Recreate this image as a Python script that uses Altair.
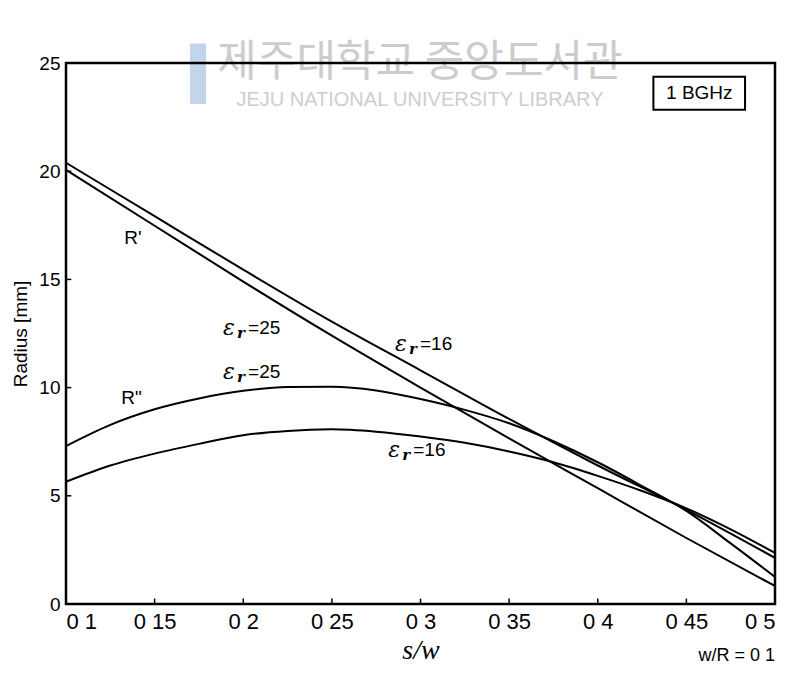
import altair as alt
import pandas as pd

# ---- data ----
x_rp = [0.10, 0.15, 0.20, 0.25, 0.30, 0.35, 0.40, 0.45, 0.50]
r1_er16 = [20.39, 17.92, 15.45, 13.05, 10.80, 8.55, 6.40, 4.35, 2.13]
r1_er25 = [20.06, 17.48, 14.90, 12.40, 10.00, 7.65, 5.35, 3.05, 0.83]

x_rpp = [0.100, 0.125, 0.150, 0.175, 0.200, 0.225, 0.250, 0.275, 0.300,
         0.325, 0.350, 0.375, 0.400, 0.425, 0.450, 0.475, 0.500]
r2_er25 = [7.30, 8.28, 9.00, 9.50, 9.85, 10.03, 10.04, 9.87, 9.47,
           8.97, 8.35, 7.52, 6.55, 5.45, 4.30, 2.80, 1.25]
r2_er16 = [5.65, 6.40, 6.95, 7.40, 7.80, 8.00, 8.07, 7.96, 7.74,
           7.45, 7.05, 6.55, 5.92, 5.22, 4.42, 3.45, 2.36]

x_ticks = [0.10, 0.15, 0.20, 0.25, 0.30, 0.35, 0.40, 0.45, 0.50]
y_ticks = [0, 5, 10, 15, 20, 25]

# annotation texts
eps_labels = ["=25", "=25", "=16", "=16"]
eps_x = [0.1886, 0.1886, 0.2856, 0.2818]
eps_y = [12.75, 10.72, 12.01, 7.12]
r_labels = ["R'", 'R"']
r_x = [0.1378, 0.1370]
r_y = [16.91, 9.52]

rows = []
for xv, yv in zip(x_rp, r1_er16):
    rows.append({"x": xv, "y": yv, "s": "R1_16"})
for xv, yv in zip(x_rp, r1_er25):
    rows.append({"x": xv, "y": yv, "s": "R1_25"})
for xv, yv in zip(x_rpp, r2_er25):
    rows.append({"x": xv, "y": yv, "s": "R2_25"})
for xv, yv in zip(x_rpp, r2_er16):
    rows.append({"x": xv, "y": yv, "s": "R2_16"})
df = pd.DataFrame(rows)

xs = alt.Scale(domain=[0.1, 0.5], nice=False, zero=False)
ys = alt.Scale(domain=[0, 25], nice=False, zero=False)
FONT = "Liberation Sans"

lines = alt.Chart(df).mark_line(color="black", strokeWidth=2, interpolate="monotone").encode(
    x=alt.X("x:Q", scale=xs, axis=alt.Axis(
        values=x_ticks, ticks=False, grid=False, domain=False,
        labelExpr="replace(format(datum.value, '~g'), '.', ' ')",
        labelFont=FONT, labelFontSize=22, labelColor="black", labelPadding=7,
        title="s/w", titleFont="Liberation Serif", titleFontStyle="italic",
        titleFontWeight="normal", titleFontSize=28, titleColor="black", titlePadding=4)),
    y=alt.Y("y:Q", scale=ys, axis=alt.Axis(
        values=y_ticks, ticks=False, grid=False, domain=False,
        labelFont=FONT, labelFontSize=19, labelColor="black", labelPadding=6,
        title="Radius [mm]", titleFont=FONT, titleFontWeight="normal",
        titleFontSize=19, titleColor="black", titlePadding=8)),
    detail="s:N",
)

# inward ticks
xt_df = pd.DataFrame({"x": x_ticks[1:-1], "y": [0] * 7, "y2": [0.25] * 7})
xtick = alt.Chart(xt_df).mark_rule(color="black", strokeWidth=1.5).encode(
    x=alt.X("x:Q", scale=xs), y=alt.Y("y:Q", scale=ys), y2="y2:Q")
yt_df = pd.DataFrame({"y": y_ticks[1:-1], "x": [0.1] * 4, "x2": [0.103] * 4})
ytick = alt.Chart(yt_df).mark_rule(color="black", strokeWidth=1.5).encode(
    y=alt.Y("y:Q", scale=ys), x=alt.X("x:Q", scale=xs), x2="x2:Q")

# frame
frame_df = pd.DataFrame({"x": [0.1], "x2": [0.5], "y": [0], "y2": [25]})
frame = alt.Chart(frame_df).mark_rect(fill=None, stroke="black", strokeWidth=2.5).encode(
    x=alt.X("x:Q", scale=xs), x2="x2:Q", y=alt.Y("y:Q", scale=ys), y2="y2:Q")

# epsilon labels
eps_df = pd.DataFrame({"x": eps_x, "y": eps_y, "t": eps_labels})
eps = alt.Chart(eps_df).mark_text(text="ε", font="DejaVu Serif", fontStyle="italic",
                                   fontSize=22, align="left", baseline="middle", color="black").encode(
    x=alt.X("x:Q", scale=xs), y=alt.Y("y:Q", scale=ys))
sub = alt.Chart(eps_df).mark_text(text="r", font="DejaVu Serif", fontStyle="italic", fontWeight="bold",
                                   fontSize=15, align="left", baseline="middle", dx=14, dy=5,
                                   color="black").encode(
    x=alt.X("x:Q", scale=xs), y=alt.Y("y:Q", scale=ys))
val = alt.Chart(eps_df).mark_text(font=FONT, fontSize=19, align="left", baseline="middle",
                                   dx=25, color="black").encode(
    x=alt.X("x:Q", scale=xs), y=alt.Y("y:Q", scale=ys), text="t:N")

r_df = pd.DataFrame({"x": r_x, "y": r_y, "t": r_labels})
rlab = alt.Chart(r_df).mark_text(font=FONT, fontSize=19, align="center", baseline="middle",
                                  color="black").encode(
    x=alt.X("x:Q", scale=xs), y=alt.Y("y:Q", scale=ys), text="t:N")

# frequency box
box_df = pd.DataFrame({"x": [0.4314], "x2": [0.4831], "y": [24.36], "y2": [22.84]})
box = alt.Chart(box_df).mark_rect(fill="white", stroke="black", strokeWidth=2).encode(
    x=alt.X("x:Q", scale=xs), x2="x2:Q", y=alt.Y("y:Q", scale=ys), y2="y2:Q")
freq_df = pd.DataFrame({"x": [0.4573], "y": [23.6], "t": ["1 BGHz"]})
freq = alt.Chart(freq_df).mark_text(font=FONT, fontSize=19, align="center", baseline="middle",
                                     color="black").encode(
    x=alt.X("x:Q", scale=xs), y=alt.Y("y:Q", scale=ys), text="t:N")

# w/R note
note_df = pd.DataFrame({"x": [0.5], "y": [-2.4], "t": ["w/R = 0 1"]})
note = alt.Chart(note_df).mark_text(font=FONT, fontSize=18, align="right", baseline="middle",
                                     color="black").encode(
    x=alt.X("x:Q", scale=xs), y=alt.Y("y:Q", scale=ys), text="t:N")

# library watermark
wm_df = pd.DataFrame({"x": [0.2997, 0.2997], "y": [25.0, 23.3],
                      "t": ["제주대학교 중앙도서관", "JEJU NATIONAL UNIVERSITY  LIBRARY"]})
wm1 = alt.Chart(wm_df.iloc[[0]]).mark_text(font="Noto Sans CJK KR", fontSize=43, align="center",
                                            baseline="middle", color="#cccccc").encode(
    x=alt.X("x:Q", scale=xs), y=alt.Y("y:Q", scale=ys), text="t:N")
wm2 = alt.Chart(wm_df.iloc[[1]]).mark_text(font=FONT, fontSize=20, align="center",
                                            baseline="middle", color="#cecece").encode(
    x=alt.X("x:Q", scale=xs), y=alt.Y("y:Q", scale=ys), text="t:N")
logo_df = pd.DataFrame({"x": [0.170], "x2": [0.179], "y": [25.9], "y2": [23.1]})
logo = alt.Chart(logo_df).mark_rect(fill="#b3cbe6", opacity=0.8).encode(
    x=alt.X("x:Q", scale=xs), x2="x2:Q", y=alt.Y("y:Q", scale=ys), y2="y2:Q")

chart = alt.layer(logo, wm1, wm2, lines, xtick, ytick, frame, eps, sub, val, rlab, box, freq, note).properties(
    width=709, height=541,
    background="white",
    autosize=alt.AutoSizeParams(type="none"),
    padding={"left": 58, "top": 55, "right": 8, "bottom": 60},
).configure_view(stroke=None)

chart.save("out.html", embed_options={"renderer": "svg", "actions": False})
